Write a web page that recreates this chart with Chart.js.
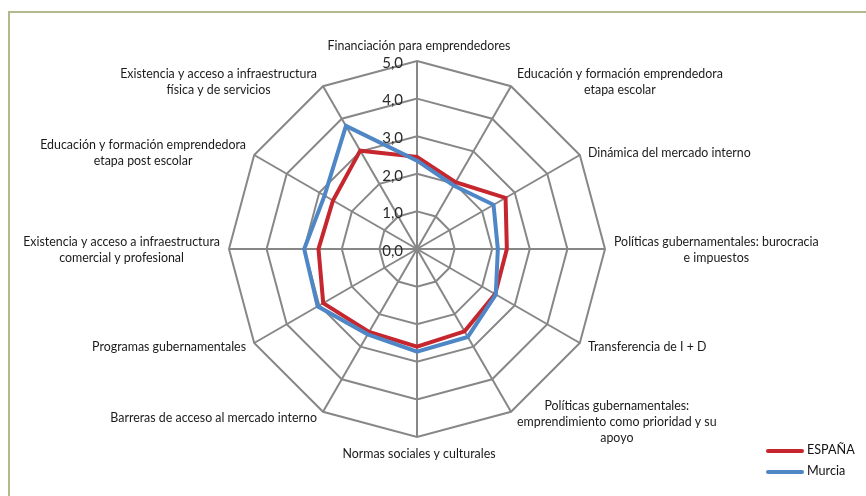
<!DOCTYPE html>
<html>
<head>
<meta charset="utf-8">
<script src="https://cdn.jsdelivr.net/npm/chart.js@4"></script>
<style>
  html, body { margin: 0; padding: 0; background: #fff; }
  #wrap { position: relative; width: 866px; height: 496px; overflow: hidden; }
  #frame { position: absolute; left: 8px; top: 11px; width: 900px; height: 520px;
           border-left: 2px solid #b3b98f; border-top: 2px solid #b3b98f; }
  #chart { position: absolute; left: 0; top: 0; }
  .leg { position: absolute; left: 766px; font: 12.6px Lato, sans-serif; color: #111; }
  .leg span { display: inline-block; width: 38px; height: 4px; border-radius: 2px;
              vertical-align: middle; margin-right: 3px; }
</style>
</head>
<body>
<div id="wrap">
  <div id="frame"></div>
  <canvas id="chart" width="866" height="496"></canvas>
  <div class="leg" style="top:442px"><span style="background:#c6262e"></span>ESPAÑA</div>
  <div class="leg" style="top:463px"><span style="background:#4e86c6"></span>Murcia</div>
</div>
<script>
// axis categories, clockwise from the top
const categories = [
  ['Financiación para emprendedores'],
  ['Educación y formación emprendedora', 'etapa escolar'],
  ['Dinámica del mercado interno'],
  ['Políticas gubernamentales: burocracia', 'e impuestos'],
  ['Transferencia de I + D'],
  ['Políticas gubernamentales:', 'emprendimiento como prioridad y su', 'apoyo'],
  ['Normas sociales y culturales'],
  ['Barreras de acceso al mercado interno'],
  ['Programas gubernamentales'],
  ['Existencia y acceso a infraestructura', 'comercial y profesional'],
  ['Educación y formación emprendedora', 'etapa post escolar'],
  ['Existencia y acceso a infraestructura', 'física y de servicios']
];
const espana = [2.45, 2.05, 2.72, 2.39, 2.40, 2.53, 2.60, 2.55, 2.88, 2.62, 2.58, 3.02];
const murcia = [2.35, 1.95, 2.35, 2.15, 2.42, 2.70, 2.73, 2.62, 3.05, 3.00, 2.84, 3.78];
const tickValues = [0, 1, 2, 3, 4, 5];
const tickLabels = ['0,0', '1,0', '2,0', '3,0', '4,0', '5,0'];

// tick labels sit left of the top spoke, point labels are centred blocks
const axisText = {
  id: 'axisText',
  afterDraw(chart) {
    const s = chart.scales.r;
    const ctx = chart.ctx;
    ctx.save();
    ctx.fillStyle = '#2a2a2a';
    ctx.font = '15px Lato, sans-serif';
    ctx.textAlign = 'right';
    ctx.textBaseline = 'middle';
    tickValues.forEach((v, i) => {
      const d = s.getDistanceFromCenterForValue(v);
      ctx.fillText(tickLabels[i], s.xCenter - 14, s.yCenter - d + 2);
    });

    ctx.font = '12.4px Lato, sans-serif';
    ctx.fillStyle = '#1a1a1a';
    ctx.textAlign = 'center';
    const lh = 16;
    categories.forEach((lines, i) => {
      const p = s.getPointPosition(i, s.drawingArea);
      const ang = i * 360 / categories.length;
      const rad = ang * Math.PI / 180;
      const w = Math.max(...lines.map(t => ctx.measureText(t).width));
      const h = lines.length * lh;
      const gap = 3 + 6 * Math.abs(Math.sin(rad));
      let cx, cy;
      if (ang === 0) {
        cx = p.x + 2; cy = p.y - 7 - h / 2;
      } else if (ang === 180) {
        cx = p.x + 2; cy = p.y + 9 + h / 2;
      } else {
        cx = ang < 180 ? p.x + gap + w / 2 : p.x - gap - w / 2;
        cy = p.y - 6 * Math.cos(rad) + 1 + (lines.length > 2 ? 4 : 0);
      }
      lines.forEach((t, k) => ctx.fillText(t, cx, cy - h / 2 + lh * (k + 0.5)));
    });
    ctx.restore();
  }
};

new Chart(document.getElementById('chart'), {
  type: 'radar',
  data: {
    labels: categories,
    datasets: [
      { label: 'ESPAÑA', data: espana, borderColor: '#c6262e', order: 2 },
      { label: 'Murcia', data: murcia, borderColor: '#4e86c6', order: 1 }
    ]
  },
  options: {
    responsive: false,
    animation: false,
    layout: { padding: { left: 229, right: 260, top: 61, bottom: 58 } },
    elements: {
      line: { borderWidth: 4, tension: 0, fill: false },
      point: { radius: 0, hoverRadius: 0 }
    },
    plugins: { legend: { display: false }, tooltip: { enabled: false } },
    scales: {
      r: {
        min: 0, max: 5,
        ticks: { stepSize: 1, display: false },
        pointLabels: { display: false },
        grid: { color: '#878787', lineWidth: 2 },
        angleLines: { color: '#878787', lineWidth: 2 }
      }
    }
  },
  plugins: [axisText]
});
</script>
</body>
</html>
